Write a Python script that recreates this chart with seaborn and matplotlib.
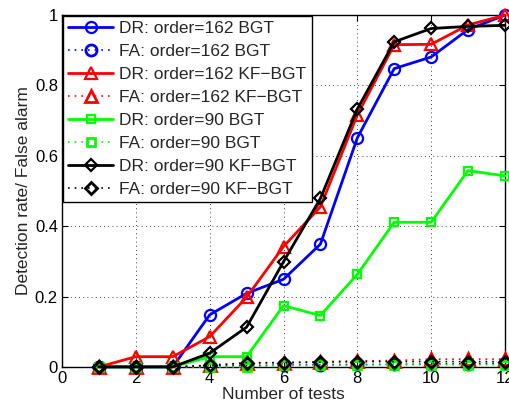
import numpy as np
import pandas as pd
import matplotlib
matplotlib.use("Agg")
import matplotlib.pyplot as plt
import seaborn as sns

# Number of tests
tests = [1, 2, 3, 4, 5, 6, 7, 8, 9, 10, 11, 12]

# Detection rates
dr_162_bgt = [0, 0, 0, 0.148, 0.209, 0.249, 0.349, 0.651, 0.848, 0.881, 0.959, 1.0]
dr_162_kf = [0, 0.029, 0.029, 0.086, 0.198, 0.342, 0.455, 0.716, 0.916, 0.917, 0.972, 1.0]
dr_90_bgt = [0, 0, 0, 0.029, 0.029, 0.174, 0.146, 0.263, 0.411, 0.411, 0.558, 0.543]
dr_90_kf = [0, 0, 0, 0.039, 0.113, 0.299, 0.479, 0.733, 0.924, 0.962, 0.968, 0.971]

# False alarm rates
fa_162_bgt = [0, 0, 0, 0.002, 0.004, 0.005, 0.006, 0.007, 0.007, 0.008, 0.009, 0.01]
fa_162_kf = [0, 0, 0, 0.005, 0.01, 0.012, 0.015, 0.017, 0.018, 0.022, 0.022, 0.022]
fa_90_bgt = [0, 0, 0, 0, 0, 0.004, 0.004, 0.005, 0.006, 0.006, 0.006, 0.006]
fa_90_kf = [0, 0, 0, 0.004, 0.012, 0.012, 0.013, 0.015, 0.015, 0.015, 0.015, 0.015]

labels = [
    "DR: order=162 BGT", "FA: order=162 BGT",
    "DR: order=162 KF\u2212BGT", "FA: order=162 KF\u2212BGT",
    "DR: order=90 BGT", "FA: order=90 BGT",
    "DR: order=90 KF\u2212BGT", "FA: order=90 KF\u2212BGT",
]
series = [dr_162_bgt, fa_162_bgt, dr_162_kf, fa_162_kf,
          dr_90_bgt, fa_90_bgt, dr_90_kf, fa_90_kf]
colors = ["#0000ff", "#0000ff", "#ff0000", "#ff0000",
          "#00ff00", "#00ff00", "#000000", "#000000"]
markers = ["o", "o", "^", "^", "s", "s", "D", "D"]
msizes = [8, 8, 9, 9, 6, 6, 6.5, 6.5]

sns.set_style("white")
plt.rcParams["font.family"] = ["Liberation Sans", "DejaVu Sans"]
plt.rcParams["axes.unicode_minus"] = True

fig = plt.figure(figsize=(5.09, 4.09), dpi=100)
ax = fig.add_axes([0.122, 0.103, 0.870, 0.860])

for lab, vals, col, mk, ms in zip(labels, series, colors, markers, msizes):
    df = pd.DataFrame({"tests": tests, "rate": vals})
    is_dr = lab.startswith("DR")
    sns.lineplot(
        data=df, x="tests", y="rate", ax=ax, label=lab, color=col,
        marker=mk, markersize=ms, markerfacecolor="none",
        markeredgecolor=col, markeredgewidth=1.6 if is_dr else 2.0,
        linewidth=2.0 if is_dr else 1.2,
        linestyle="-" if is_dr else (0, (1, 3)),
        clip_on=False, zorder=3,
    )

ax.set_xlim(0, 12)
ax.set_ylim(0, 1)
ax.set_xticks(np.arange(0, 13, 2))
ax.set_yticks(np.arange(0, 1.01, 0.2))
ax.set_xticklabels([str(v) for v in range(0, 13, 2)])
ax.set_yticklabels(["0", "0.2", "0.4", "0.6", "0.8", "1"])
ax.grid(True, color="black", linestyle=(0, (1, 4)), linewidth=0.6)
ax.tick_params(direction="in", length=4, labelsize=12, colors="black",
               top=True, right=True, bottom=True, left=True, pad=3)
for s in ax.spines.values():
    s.set_visible(True)
    s.set_color("black")
    s.set_linewidth(1.0)

ax.set_xlabel("Number of tests", fontsize=12.5, labelpad=1)
ax.set_ylabel("Detection rate/ False alarm", fontsize=12.5, labelpad=3)

leg = ax.legend(loc="upper left", fontsize=12.5, frameon=True, fancybox=False,
                borderaxespad=0.05, handlelength=2.6, handletextpad=0.35,
                labelspacing=0.45, borderpad=0.3, framealpha=1)
leg.get_frame().set_edgecolor("black")
leg.get_frame().set_linewidth(1.0)

fig.savefig("out.png", dpi=100)
